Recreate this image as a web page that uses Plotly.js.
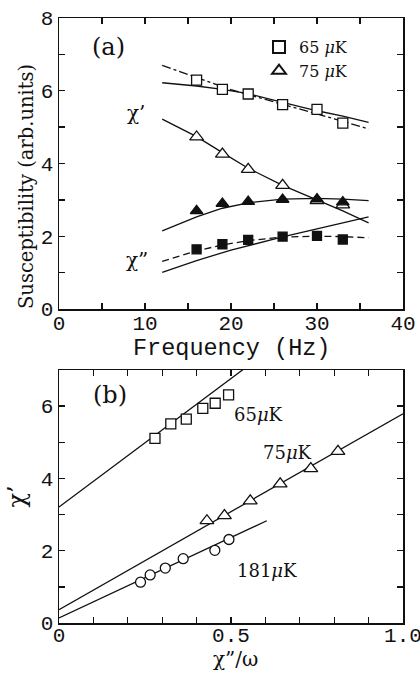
<!DOCTYPE html>
<html>
<head>
<meta charset="utf-8">
<script src="https://cdn.plot.ly/plotly-3.0.1.min.js"></script>
<style>html,body{margin:0;padding:0;background:#fff;}#chart{width:420px;height:673px;}</style>
</head>
<body>
<div id="chart"></div>
<script>
// ---------- Panel (a): susceptibility vs frequency ----------
const freq = [16, 19, 22, 26, 30, 33];
const chiReal65 = [6.29, 6.04, 5.91, 5.62, 5.49, 5.11];
const chiReal75 = [4.73, 4.26, 3.84, 3.40, 2.98, 2.86];
const chiImag75 = [2.70, 2.90, 2.95, 3.01, 3.02, 2.94];
const chiImag65 = [1.64, 1.78, 1.90, 1.99, 2.01, 1.91];

// model curves
const fitReal65Freq = [12, 16, 19, 22, 26, 30, 33, 36];
const fitReal65 = [6.22, 6.13, 6.04, 5.92, 5.68, 5.45, 5.30, 5.13];
const fitReal65bFreq = [12, 16, 20, 24, 28, 32, 36];
const fitReal65b = [6.70, 6.36, 6.03, 5.76, 5.50, 5.23, 4.95];
const fitReal75Freq = [12, 16, 19, 22, 26, 30, 33, 36];
const fitReal75 = [5.22, 4.74, 4.30, 3.87, 3.40, 3.00, 2.70, 2.37];
const fitImag75Freq = [12, 14, 16, 19, 22, 26, 30, 33, 36];
const fitImag75 = [2.15, 2.35, 2.53, 2.77, 2.92, 3.02, 3.04, 3.02, 2.98];
const fitImag65Freq = [12, 16, 19, 22, 26, 30, 33, 36];
const fitImag65 = [1.31, 1.60, 1.76, 1.88, 1.98, 2.00, 1.99, 1.96];
const fitImag65bFreq = [12, 16, 20, 23, 26, 30, 33, 36];
const fitImag65b = [1.01, 1.33, 1.62, 1.81, 1.98, 2.20, 2.36, 2.53];

const xTicksA = [0, 10, 20, 30, 40];
const yTicksA = [0, 2, 4, 6, 8];

// ---------- Panel (b): chi' vs chi''/omega ----------
const ratio65 = [0.279, 0.325, 0.370, 0.418, 0.454, 0.493];
const real65 = [5.11, 5.51, 5.64, 5.94, 6.08, 6.31];
const ratio75 = [0.430, 0.481, 0.556, 0.643, 0.732, 0.811];
const real75 = [2.83, 2.97, 3.38, 3.85, 4.27, 4.75];
const ratio181 = [0.237, 0.265, 0.309, 0.361, 0.453, 0.494];
const real181 = [1.13, 1.33, 1.52, 1.78, 2.01, 2.31];

const lineRatio65 = [0, 0.56];
const lineReal65 = [3.21, 7.19];
const lineRatio75 = [0, 1.0];
const lineReal75 = [0.37, 5.79];
const lineRatio181 = [0, 0.604];
const lineReal181 = [0.14, 2.83];

const xTicksB = [0, 0.5, 1.0];
const xTickTextB = ['0', '0.5', '1.0'];
const yTicksB = [0, 2, 4, 6];

// ---------- styling ----------
const INK = '#111';
const MONO = 'Liberation Mono, Courier New, monospace';
const SERIF = 'DejaVu Serif, serif';
const LW = 1.3;

function line(x, y, xa, ya, dash) {
  return {x: x, y: y, xaxis: xa, yaxis: ya, mode: 'lines', showlegend: false,
          hoverinfo: 'skip', line: {color: INK, width: LW, dash: dash || 'solid'}};
}
function pts(x, y, xa, ya, symbol, size, filled, name, show) {
  return {x: x, y: y, xaxis: xa, yaxis: ya, mode: 'markers', name: name || '',
          showlegend: !!show,
          marker: {symbol: symbol, size: size, color: filled ? INK : '#fff',
                   line: {color: INK, width: LW}}};
}

const traces = [
  line(fitReal65Freq, fitReal65, 'x', 'y'),
  line(fitReal65bFreq, fitReal65b, 'x', 'y', 'dashdot'),
  line(fitReal75Freq, fitReal75, 'x', 'y'),
  line(fitImag75Freq, fitImag75, 'x', 'y'),
  line(fitImag65Freq, fitImag65, 'x', 'y', '7px,4px'),
  line(fitImag65bFreq, fitImag65b, 'x', 'y'),
  pts(freq, chiReal65, 'x', 'y', 'square', 10, false, '65 <i>\u03bc</i>K', true),
  pts(freq, chiReal75, 'x', 'y', 'triangle-up', 12, false, '75 <i>\u03bc</i>K', true),
  pts(freq, chiImag75, 'x', 'y', 'triangle-up', 11, true),
  pts(freq, chiImag65, 'x', 'y', 'square', 9, true),

  line(lineRatio65, lineReal65, 'x2', 'y2'),
  line(lineRatio75, lineReal75, 'x2', 'y2'),
  line(lineRatio181, lineReal181, 'x2', 'y2'),
  pts(ratio65, real65, 'x2', 'y2', 'square', 10, false),
  pts(ratio75, real75, 'x2', 'y2', 'triangle-up', 12, false),
  pts(ratio181, real181, 'x2', 'y2', 'circle', 10, false)
];

const L = 59, R = 403, T = 18, B = 623;
const px = v => (v - L) / (R - L);
const py = v => (B - v) / (B - T);

const axisBase = {
  showline: true, linecolor: INK, linewidth: 1.5, mirror: 'ticks',
  ticks: 'inside', ticklen: 6, tickwidth: 1.3, tickcolor: INK,
  showgrid: false, zeroline: false, fixedrange: true, automargin: false,
  ticklabeloverflow: 'allow',
  tickfont: {family: MONO, size: 21, color: INK}
};
const minorBase = {tickmode: 'linear', tick0: 0, ticks: 'inside', ticklen: 6, tickcolor: INK, tickwidth: 1.3};

function note(text, x, y, size, angle, family, yanchor) {
  return {text: text, xref: 'paper', yref: 'paper', x: px(x), y: py(y),
          xanchor: 'center', yanchor: yanchor || 'middle', textangle: angle || 0, showarrow: false,
          font: {family: family || SERIF, size: size, color: INK}};
}

const layout = {
  width: 420, height: 673,
  margin: {l: L, r: 420 - R, t: T, b: 673 - B, pad: 0},
  paper_bgcolor: '#fff', plot_bgcolor: '#fff',
  font: {family: SERIF, color: INK},
  showlegend: true,
  legend: {x: px(259), y: py(30), xanchor: 'left', yanchor: 'top',
           bgcolor: 'rgba(0,0,0,0)', font: {family: SERIF, size: 16, color: INK},
           itemsizing: 'constant', itemwidth: 30, tracegroupgap: 0},
  xaxis: Object.assign({}, axisBase, {
    domain: [0, 1], anchor: 'y', range: [0, 40], ticklabelstandoff: -6,
    tickvals: xTicksA, ticktext: xTicksA.map(String),
    minor: Object.assign({dtick: 5}, minorBase)
  }),
  yaxis: Object.assign({}, axisBase, {
    domain: [py(309), 1], anchor: 'x', range: [0, 8],
    tickvals: yTicksA, ticktext: yTicksA.map(String),
    minor: Object.assign({dtick: 1}, minorBase)
  }),
  xaxis2: Object.assign({}, axisBase, {
    domain: [0, 1], anchor: 'y2', range: [0, 1.0], ticklabelstandoff: -8,
    tickvals: xTicksB, ticktext: xTickTextB,
    minor: Object.assign({dtick: 0.1}, minorBase)
  }),
  yaxis2: Object.assign({}, axisBase, {
    domain: [0, py(370)], anchor: 'x2', range: [0, 7],
    tickvals: yTicksB, ticktext: yTicksB.map(String),
    minor: Object.assign({dtick: 1}, minorBase),
    title: {text: '\u03c7\u2019', font: {family: SERIF, size: 24, color: INK}, standoff: 8}
  }),
  annotations: [
    note('Frequency (Hz)', 231, 348, 23.5, 0, MONO),
    note('\u03c7\u201d/\u03c9', 235, 673, 20, 0, SERIF, 'bottom'),
    note('Susceptibility (arb.units)', 26, 187, 19.5, -90),
    note('(a)', 108, 47, 24),
    note('\u03c7\u2019', 136, 113, 20),
    note('\u03c7\u201d', 137, 260, 20),
    note('(b)', 110, 395, 24),
    note('65<i>\u03bc</i>K', 258, 414, 18),
    note('75<i>\u03bc</i>K', 287, 452, 18),
    note('181<i>\u03bc</i>K', 267, 570, 18)
  ]
};

Plotly.newPlot('chart', traces, layout, {staticPlot: true, displayModeBar: false});
</script>
</body>
</html>
